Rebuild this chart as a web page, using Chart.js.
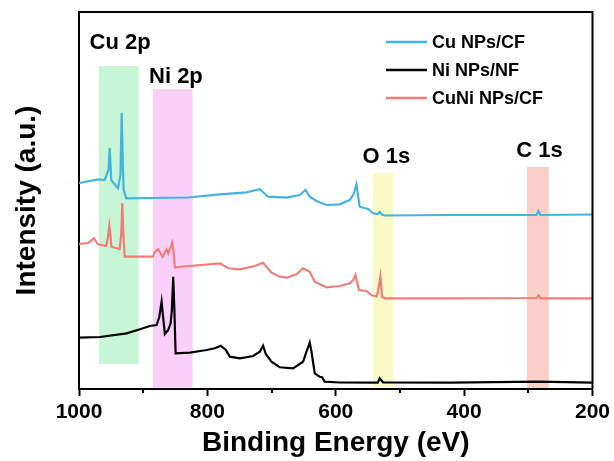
<!DOCTYPE html>
<html>
<head>
<meta charset="utf-8">
<script src="https://cdn.jsdelivr.net/npm/chart.js@4.4.1/dist/chart.umd.min.js"></script>
<style>
html, body { margin: 0; padding: 0; background: #fff; }
#wrap { width: 614px; height: 461px; }
</style>
</head>
<body>
<div id="wrap"><canvas id="xpsChart" width="614" height="461"></canvas></div>
<script>
// Binding energy (eV) / intensity (a.u.) pairs
const cuEnergy = [1000, 970.4, 960, 954.1, 952.2, 949.7, 939.3, 935.4, 933.5, 931.5, 930.4, 926.4, 889.5, 830.4, 780.5, 739, 718.3, 705.4, 676.7, 656, 647.2, 640.5, 630, 614.5, 593.8, 578.2, 572, 567.8, 562.7, 549.7, 541.9, 534.6, 531.5, 528.4, 523.7, 422.6, 287.2, 284.1, 281, 200];
const cuIntensity = [206, 209.7, 209, 219, 241.3, 209, 200.7, 214, 276.3, 219, 199, 190.7, 191, 191.5, 194.7, 196.7, 199.7, 192.3, 191.3, 194, 199, 192.3, 188, 184, 184.7, 189, 195, 204.7, 182.3, 180, 175.7, 175, 177, 174.5, 173.5, 174, 174, 178, 174, 174.5];

const niEnergy = [1000, 967.3, 925.8, 905, 889.5, 879.1, 875, 871.3, 869.3, 866.2, 861, 857.3, 855.3, 853.2, 851.4, 849.5, 827.2, 801.3, 788.3, 779, 771.2, 765, 749.4, 728.7, 718.3, 713.2, 709, 700.1, 687.2, 666.5, 650.9, 645.6, 640.5, 637.8, 632.7, 624.9, 621.3, 617.1, 593.8, 534.6, 531.5, 526.4, 422.6, 284.1, 200];
const niIntensity = [51.3, 52, 55.7, 59.7, 63, 64, 71.7, 87.3, 74, 55, 59, 65.7, 79, 112.3, 79, 35.7, 36.3, 39, 40.7, 43.3, 39, 32.3, 30.7, 33, 37.3, 43.3, 35, 27.3, 21.7, 20.7, 27.3, 37.3, 46.3, 37.3, 15.7, 12.3, 11.7, 7.3, 6.5, 6.3, 10.7, 6.7, 6.3, 7.3, 6.3];

const cuniEnergy = [1000, 986, 976.7, 970.4, 957.5, 954.4, 952.8, 951, 949.7, 936.7, 934.2, 932.6, 931.1, 928.9, 905, 884.8, 881.7, 876.6, 869.7, 863.5, 861, 857.6, 854.8, 852.9, 850.6, 827.2, 780.5, 767.6, 749.4, 726.1, 713.2, 700.1, 687.2, 676.7, 661.2, 650.9, 640.5, 632.7, 614.5, 593.8, 578.2, 572.8, 569.3, 566.5, 563.7, 552.2, 544.4, 536.7, 534.2, 530.4, 527.9, 523.7, 422.6, 287.2, 284.1, 281, 200];
const cuniIntensity = [145, 146, 150.7, 144.7, 143, 154, 163, 154, 142.3, 140, 154, 185.7, 159, 132.3, 132.3, 132.3, 137.3, 139.7, 132.3, 139.7, 135.7, 141, 146.3, 139, 121.7, 123, 125.7, 120.7, 119.7, 123, 126.3, 116.3, 112.3, 111.3, 114.7, 120.7, 117.3, 107.3, 101.7, 103, 105.7, 109, 114, 106, 99, 98, 94, 92.3, 97.3, 112.3, 92.3, 90.7, 90.7, 91, 93.5, 90.7, 90.7];

const seriesNames = ["Cu NPs/CF", "Ni NPs/NF", "CuNi NPs/CF"];

// highlighted regions (eV range, intensity range) and their labels
const bandNames = ["Cu 2p", "Ni 2p", "O 1s", "C 1s"];
const bandFrom = [969, 885, 542, 302];
const bandTo = [907, 823, 510, 268];
const bandTop = [323, 300, 216, 222];
const bandBottom = [25, 1, 2, 1];
const labelEnergy = [936, 849, 521, 282.5];
const labelIntensity = [346, 312, 232, 238];

const minorTicks = [900, 700, 500, 300];

const FONT = '"Liberation Sans", Arial, sans-serif';

function pairs(xs, ys) {
    return xs.map((x, i) => ({ x: x, y: ys[i] }));
}

const bandColors = ["rgba(196,245,212,0.95)", "rgba(250,204,250,0.95)", "rgba(250,250,196,0.95)", "rgba(250,204,196,0.95)"];

// shaded regions behind the spectra
const bandsPlugin = {
    id: 'bands',
    beforeDatasetsDraw(chart) {
        const { ctx, scales: { x, y } } = chart;
        ctx.save();
        bandFrom.forEach((from, i) => {
            const x1 = x.getPixelForValue(from);
            const x2 = x.getPixelForValue(bandTo[i]);
            const y1 = y.getPixelForValue(bandTop[i]);
            const y2 = y.getPixelForValue(bandBottom[i]);
            ctx.fillStyle = bandColors[i];
            ctx.fillRect(x1, y1, x2 - x1, y2 - y1);
        });
        ctx.restore();
    }
};

// frame, minor ticks, peak labels and legend
const decorPlugin = {
    id: 'decor',
    afterDraw(chart) {
        const { ctx, chartArea: a, scales: { x, y } } = chart;
        ctx.save();
        ctx.strokeStyle = '#000';
        ctx.lineWidth = 2;
        ctx.beginPath();
        ctx.moveTo(a.left, a.top);
        ctx.lineTo(a.right, a.top);
        ctx.lineTo(a.right, a.bottom);
        ctx.stroke();

        minorTicks.forEach(v => {
            const px = Math.round(x.getPixelForValue(v));
            ctx.beginPath();
            ctx.moveTo(px, a.bottom);
            ctx.lineTo(px, a.bottom + 4);
            ctx.stroke();
        });

        ctx.fillStyle = '#000';
        ctx.font = 'bold 22px ' + FONT;
        ctx.textAlign = 'center';
        ctx.textBaseline = 'middle';
        bandNames.forEach((name, i) => {
            ctx.fillText(name, x.getPixelForValue(labelEnergy[i]), y.getPixelForValue(labelIntensity[i]));
        });

        ctx.font = 'bold 18px ' + FONT;
        ctx.textAlign = 'left';
        const rows = [42, 70, 98];
        chart.data.datasets.forEach((ds, i) => {
            ctx.strokeStyle = ds.borderColor;
            ctx.lineWidth = 2.5;
            ctx.beginPath();
            ctx.moveTo(386, rows[i]);
            ctx.lineTo(427, rows[i]);
            ctx.stroke();
            ctx.fillStyle = '#000';
            ctx.fillText(ds.label, 432, rows[i] + 1);
        });
        ctx.restore();
    }
};

const ctx = document.getElementById('xpsChart').getContext('2d');
const xpsChart = new Chart(ctx, {
    type: 'line',
    data: {
        datasets: [
            { label: seriesNames[0], data: pairs(cuEnergy, cuIntensity), borderColor: '#42b4e4', borderWidth: 2.2 },
            { label: seriesNames[1], data: pairs(niEnergy, niIntensity), borderColor: '#000000', borderWidth: 2.2 },
            { label: seriesNames[2], data: pairs(cuniEnergy, cuniIntensity), borderColor: '#f27d78', borderWidth: 2.2 }
        ]
    },
    options: {
        responsive: false,
        animation: false,
        devicePixelRatio: 1,
        layout: { padding: { top: 12, right: 21, left: 0, bottom: 0 } },
        elements: { point: { radius: 0 }, line: { tension: 0 } },
        plugins: { legend: { display: false }, tooltip: { enabled: false } },
        scales: {
            x: {
                type: 'linear',
                min: 200,
                max: 1000,
                reverse: true,
                afterFit(scale) { scale.height = 72; },
                border: { color: '#000', width: 2 },
                grid: { drawOnChartArea: false, tickLength: 7, tickWidth: 2, tickColor: '#000' },
                ticks: {
                    stepSize: 200,
                    padding: 4,
                    color: '#000',
                    font: { family: FONT, size: 21, weight: 'bold' },
                    callback: v => String(v)
                },
                title: { display: true, text: 'Binding Energy (eV)', color: '#000', padding: { top: 0, bottom: 1 }, font: { family: FONT, size: 28, weight: 'bold' } }
            },
            y: {
                min: 0,
                max: 377,
                afterFit(scale) { scale.width = 79; },
                border: { color: '#000', width: 2 },
                grid: { display: false },
                ticks: { display: false },
                title: { display: true, text: 'Intensity (a.u.)', color: '#000', padding: { top: 10, bottom: 0 }, font: { family: FONT, size: 28, weight: 'bold' } }
            }
        }
    },
    plugins: [bandsPlugin, decorPlugin]
});
</script>
</body>
</html>
